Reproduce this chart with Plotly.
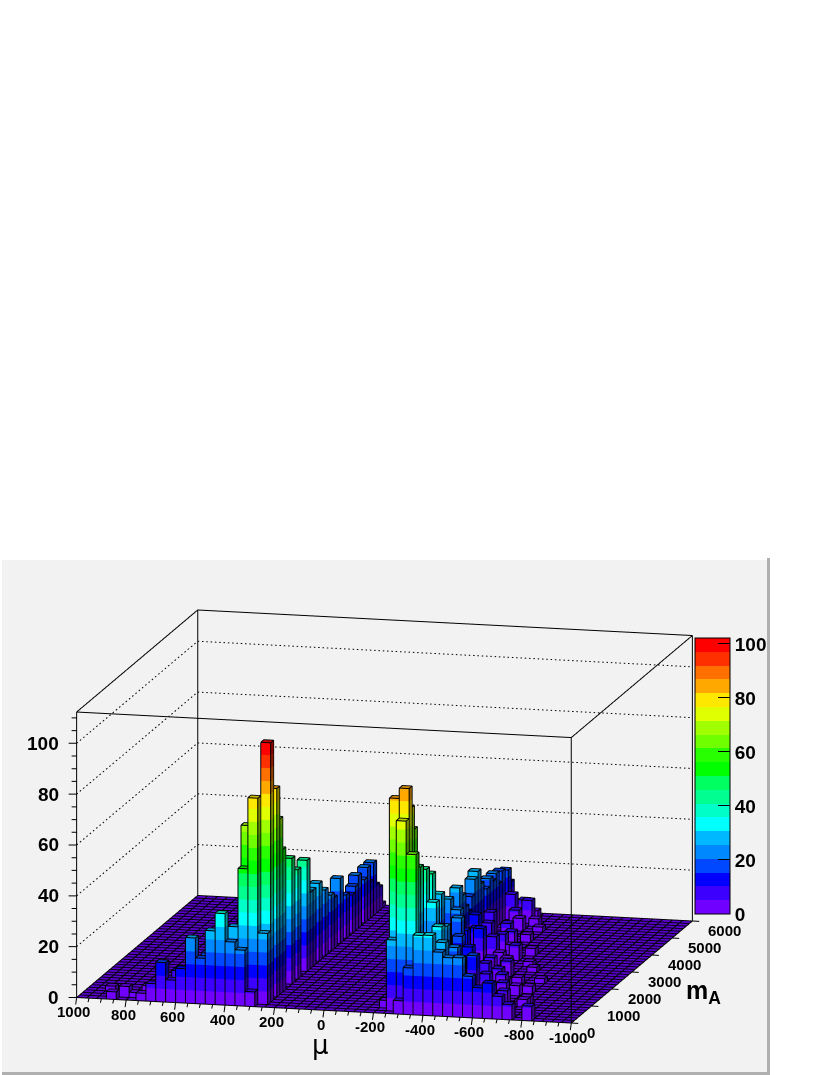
import plotly.graph_objects as go

# binning of the histogram
n_mu = 50
n_ma = 40
mu_edges = [1000 - 40 * i for i in range(n_mu + 1)]
ma_edges = [150 * j for j in range(n_ma + 1)]

# front row (mA bin 0), by mu bin
front_bins = [3, 6, 7, 8, 9, 10, 11, 12, 13, 14, 15, 16, 17, 32, 33, 34, 35, 36, 37, 38, 39, 40, 41, 42, 43, 45]
front_heights = [3, 3, 7, 15.5, 8.8, 13.5, 25.8, 18, 29, 36, 25, 22, 5.8, 5.3, 18.4, 31.4, 31.6, 25.2, 23.2, 23.4, 16.3, 12, 14, 9, 6, 5.8]

# ridge at mu bin 18
ridge1_rows = [1, 2, 4, 5, 6, 9, 11, 14, 15, 16, 18, 20, 22, 23, 25, 27, 29, 30, 31, 33, 34, 35, 36, 37, 38, 39]
ridge1_heights = [28, 102, 82, 69, 56, 49.5, 43, 43.7, 30, 30, 30.6, 26, 22, 20, 25.5, 17, 15, 17.4, 20.7, 17, 20.8, 14, 20.7, 11, 9, 1.6]

# ridge at mu bin 31
ridge2_rows = [1, 2, 6, 7, 9, 11, 13, 16, 19, 22, 23, 24, 25, 26, 27, 28, 29, 31, 32, 33, 34, 35, 36, 38, 39]
ridge2_heights = [28, 82.7, 75, 65.6, 48.7, 45.8, 42, 31, 26, 27.4, 23.5, 18, 15, 20, 25.8, 27.9, 22, 18, 21, 19, 21, 16, 20, 18.4, 12.8]

# remaining bars around the two ridges
other_mu = [2, 4, 5, 6, 9, 12, 15, 15, 16, 16, 17, 32, 32, 33, 30,
            32, 36, 38, 35, 37, 39, 34, 32, 33, 34, 33, 34, 36, 32, 33, 32, 32, 32, 34, 33, 33, 33, 35, 38, 36, 39, 40, 42, 43, 41, 42, 43, 36, 36, 34,
            35, 35, 37, 34, 35, 36, 37, 38, 38, 39, 40, 40, 41, 37, 35, 36, 34, 35, 36, 39, 40]
other_ma = [3, 1, 1, 2, 2, 2, 1, 4, 1, 2, 1, 1, 2, 1, 2,
            19, 17, 16, 24, 19, 11, 36, 37, 38, 38, 35, 29, 29, 30, 26, 25, 19, 11, 8, 16, 18, 22, 21, 24, 24, 12, 13, 10, 6, 5, 14, 5, 1, 5, 20,
            3, 8, 8, 13, 13, 11, 12, 9, 13, 8, 8, 4, 9, 22, 27, 20, 33, 35, 33, 20, 18]
other_h = [2, 4.3, 2.1, 4, 10.5, 18, 30, 30, 53, 69, 81, 75, 86.8, 62, 3,
           18, 6, 6, 8, 4, 6, 9, 10, 7, 3, 6, 7, 3, 10, 10, 14, 22, 33, 27, 22, 15, 12, 10, 3, 4, 3, 3, 3, 3, 6, 2, 3, 28, 22, 14,
           32, 18, 16, 18, 14, 12, 9, 8, 6, 5, 6, 5, 4, 6, 6, 5, 5, 3, 2, 2, 2]

z_max = 102.2
n_levels = 20
palette = [(112, 0, 255), (60, 0, 255), (0, 0, 255), (0, 72, 255), (0, 136, 255),
           (0, 184, 255), (0, 255, 255), (0, 255, 200), (0, 255, 144), (0, 255, 96),
           (0, 255, 0), (40, 255, 0), (112, 255, 0), (160, 255, 0), (224, 255, 0),
           (255, 232, 0), (255, 168, 0), (255, 112, 0), (255, 48, 0), (255, 0, 0)]
z_ticks = [0, 20, 40, 60, 80, 100]
mu_ticks = [1000, 800, 600, 400, 200, 0, -200, -400, -600, -800, -1000]
ma_ticks = [0, 1000, 2000, 3000, 4000, 5000, 6000]
z_top = 112.3

heights = {}
for b, h in zip(front_bins, front_heights):
    heights[(b, 0)] = h
for r, h in zip(ridge1_rows, ridge1_heights):
    heights[(18, r)] = h
for r, h in zip(ridge2_rows, ridge2_heights):
    heights[(31, r)] = h
for b, r, h in zip(other_mu, other_ma, other_h):
    heights[(b, r)] = h


def rgb(level, shade=1.0):
    c = palette[min(level, n_levels - 1)]
    return "rgb(%d,%d,%d)" % (c[0] * shade, c[1] * shade, c[2] * shade)


# faces
vx, vy, vz, ti, tj, tk, colors = [], [], [], [], [], [], []


def add_quad(pts, color):
    n = len(vx)
    for p in pts:
        vx.append(p[0])
        vy.append(p[1])
        vz.append(p[2])
    ti.extend([n, n])
    tj.extend([n + 1, n + 2])
    tk.extend([n + 2, n + 3])
    colors.extend([color, color])


def add_path(xs, ys, zs, *pts):
    for p in pts:
        xs.append(p[0])
        ys.append(p[1])
        zs.append(p[2])
    xs.append(None)
    ys.append(None)
    zs.append(None)


# floor
floor_x, floor_y, floor_z = [], [], []
add_quad([(1000, 0, -0.15), (-1000, 0, -0.15), (-1000, 6000, -0.15), (1000, 6000, -0.15)], rgb(0, 0.8))
for m in ma_edges:
    add_path(floor_x, floor_y, floor_z, (1000, m, 0), (-1000, m, 0))
for u in mu_edges:
    add_path(floor_x, floor_y, floor_z, (u, 0, 0), (u, 6000, 0))

# bars, one colour per contour level
lx, ly, lz = [], [], []
step = z_max / n_levels
inset_mu, inset_ma, inset_z = 1.0, 3.0, 0.12
for (b, r), h in heights.items():
    u0, u1 = mu_edges[b], mu_edges[b + 1]
    m0, m1 = ma_edges[r], ma_edges[r + 1]
    level = 0
    while level * step < h:
        za = level * step
        zb = min((level + 1) * step, h)
        add_quad([(u0 - inset_mu, m0 + inset_ma, za), (u1 + inset_mu, m0 + inset_ma, za),
                  (u1 + inset_mu, m0 + inset_ma, zb), (u0 - inset_mu, m0 + inset_ma, zb)], rgb(level))
        add_quad([(u1 + inset_mu, m0 + inset_ma, za), (u1 + inset_mu, m1 - inset_ma, za),
                  (u1 + inset_mu, m1 - inset_ma, zb), (u1 + inset_mu, m0 + inset_ma, zb)], rgb(level, 0.55))
        level += 1
    add_quad([(u0 - inset_mu, m0 + inset_ma, h - inset_z), (u1 + inset_mu, m0 + inset_ma, h - inset_z),
              (u1 + inset_mu, m1 - inset_ma, h - inset_z), (u0 - inset_mu, m1 - inset_ma, h - inset_z)],
             rgb(level - 1, 0.8))
    add_path(lx, ly, lz, (u0, m0, h), (u1, m0, h), (u1, m1, h), (u0, m1, h), (u0, m0, h))
    add_path(lx, ly, lz, (u0, m0, 0), (u0, m0, h))
    add_path(lx, ly, lz, (u1, m0, 0), (u1, m0, h))
    add_path(lx, ly, lz, (u1, m1, 0), (u1, m1, h))

# frame
fx, fy, fz = [], [], []
add_path(fx, fy, fz, (1000, 0, z_top), (-1000, 0, z_top), (-1000, 6000, z_top), (1000, 6000, z_top), (1000, 0, z_top))
add_path(fx, fy, fz, (1000, 0, 0), (1000, 0, z_top))
add_path(fx, fy, fz, (-1000, 0, 0), (-1000, 0, z_top))
add_path(fx, fy, fz, (-1000, 6000, 0), (-1000, 6000, z_top))
add_path(fx, fy, fz, (1000, 6000, 0), (1000, 6000, z_top))

# tick marks
for z in range(0, 111, 5):
    size = 8 if z % 20 == 0 else 5
    add_path(fx, fy, fz, (1000, 0, z), (1000 + size * 3.8, -size * 2.9, z))
for u in range(-1000, 1001, 50):
    size = 2.8 if u % 200 == 0 else 1.6
    add_path(fx, fy, fz, (u, 0, 0), (u + 4, 0, -size))
for m in ma_ticks:
    add_path(fx, fy, fz, (-1000, m, 0), (-1028, m, 0))

# dotted grid on the back walls, short pieces so the dots stay regular
gx, gy, gz = [], [], []
for z in z_ticks[1:]:
    for i in range(37):
        add_path(gx, gy, gz, (1000, i * 162, z), (1000, i * 162 + 60, z))
    for i in range(115):
        add_path(gx, gy, gz, (1000 - i * 17.4, 6000, z), (1000 - i * 17.4 - 6, 6000, z))

fig = go.Figure()
fig.add_trace(go.Mesh3d(x=vx, y=vy, z=vz, i=ti, j=tj, k=tk, facecolor=colors, flatshading=True,
                        lighting=dict(ambient=1, diffuse=0, specular=0, roughness=1, fresnel=0),
                        hoverinfo="skip", showscale=False))
fig.add_trace(go.Scatter3d(x=floor_x, y=floor_y, z=floor_z, mode="lines", line=dict(color="black", width=2), hoverinfo="skip"))
fig.add_trace(go.Scatter3d(x=lx, y=ly, z=lz, mode="lines", line=dict(color="black", width=2), hoverinfo="skip"))
fig.add_trace(go.Scatter3d(x=fx, y=fy, z=fz, mode="lines", line=dict(color="black", width=2), hoverinfo="skip"))
fig.add_trace(go.Scatter3d(x=gx, y=gy, z=gz, mode="lines", line=dict(color="black", width=2), hoverinfo="skip"))

# only there to carry the colour bar
colorscale = []
for i, c in enumerate(palette):
    colorscale.append([i / n_levels, rgb(i)])
    colorscale.append([(i + 1) / n_levels, rgb(i)])
fig.add_trace(go.Scatter3d(x=[1000], y=[0], z=[0], mode="markers", hoverinfo="skip",
                           marker=dict(size=1, color=[0], cmin=0, cmax=z_max, colorscale=colorscale, showscale=True,
                                       colorbar=dict(x=695 / 830, xanchor="left", xpad=0, thickness=35, thicknessmode="pixels",
                                                     y=1 - 914 / 1075, yanchor="bottom", ypad=0, len=276 / 1075, lenmode="fraction",
                                                     tickvals=z_ticks, ticks="inside", ticklen=12, tickwidth=1, tickcolor="black",
                                                     outlinewidth=1, outlinecolor="black", borderwidth=0,
                                                     tickfont=dict(family="Liberation Sans", size=19, color="black", weight="bold")))))

label_font = dict(family="Liberation Sans", size=15, color="black", weight="bold")
annotations = []
for u in mu_ticks:
    annotations.append(dict(x=u, y=0, z=0, text="<b>%d</b>" % u, showarrow=False, xshift=-3, yshift=-14, font=label_font))
for m in ma_ticks:
    annotations.append(dict(x=-1000, y=m, z=0, text="<b>%d</b>" % m, showarrow=False, xanchor="left", xshift=14,
                            yshift=-9, font=label_font))
for z in z_ticks:
    annotations.append(dict(x=1000, y=0, z=z, text="<b>%d</b>" % z, showarrow=False, xanchor="right", xshift=-16,
                            font=dict(family="Liberation Sans", size=19, color="black", weight="bold")))

hidden = dict(visible=False, showspikes=False)
fig.update_layout(
    width=830,
    height=1075,
    margin=dict(l=0, r=0, t=0, b=0),
    paper_bgcolor="white",
    showlegend=False,
    scene=dict(
        domain=dict(x=[0, 769 / 830], y=[0, 519 / 1075]),
        xaxis=dict(range=[1100, -1100], **hidden),
        yaxis=dict(range=[-400, 6400], **hidden),
        zaxis=dict(range=[-4, 116.3], **hidden),
        aspectmode="manual",
        aspectratio=dict(x=2.16, y=2.2, z=1.205),
        bgcolor="rgba(0,0,0,0)",
        camera=dict(projection=dict(type="orthographic"), up=dict(x=0, y=0, z=1),
                    center=dict(x=0, y=0, z=0.004), eye=dict(x=0.705, y=-2.848, z=0.63)),
        annotations=annotations,
    ),
    shapes=[
        dict(type="rect", xref="paper", yref="paper", x0=767 / 830, x1=770 / 830, y0=0, y1=1 - 558 / 1075, fillcolor="#b0b0b0", line_width=0, layer="below"),
        dict(type="rect", xref="paper", yref="paper", x0=2 / 830, x1=770 / 830, y0=0, y1=3 / 1075, fillcolor="#b0b0b0", line_width=0, layer="below"),
        dict(type="rect", xref="paper", yref="paper", x0=2 / 830, x1=767 / 830, y0=3 / 1075, y1=1 - 560 / 1075, fillcolor="#f2f2f2", line_width=0, layer="below"),
    ],
    annotations=[
        dict(x=320 / 830, y=1 - 1045 / 1075, xref="paper", yref="paper", text="μ", showarrow=False, xanchor="center", yanchor="middle",
             font=dict(family="DejaVu Sans", size=26, color="black")),
        dict(x=703 / 830, y=1 - 992 / 1075, xref="paper", yref="paper", text="<b>m<sub>A</sub></b>", showarrow=False, xanchor="center", yanchor="middle",
             font=dict(family="Liberation Sans", size=25, color="black")),
    ],
)

fig.write_html("out.html", config={"displayModeBar": False}, post_script="document.body.style.margin='0'")
